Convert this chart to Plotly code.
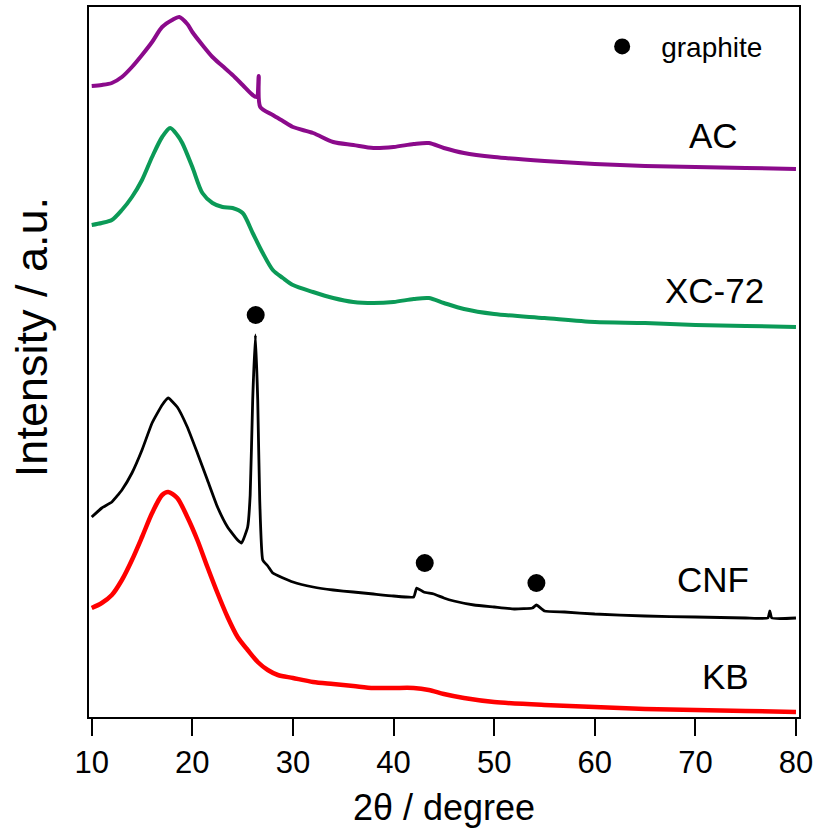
import plotly.graph_objects as go

# 2theta (degree) and intensity (a.u., offset-stacked)
ac_x = [10, 11, 12, 13, 14, 15, 16, 17, 18, 18.7, 19.5, 20, 21, 22, 23, 24, 25, 26, 26.4, 26.6, 26.75,
        28, 29, 30, 32, 34, 36, 38, 40, 42, 43.5, 45, 47, 50, 55, 60, 65, 70, 75, 80]
ac_y = [631, 632, 634, 640, 650, 662, 675, 690, 697, 700, 693, 685, 672, 660, 651, 642, 632, 622, 620, 641, 610,
        602, 596, 590, 584, 575, 572, 569, 570, 573, 574, 569, 564, 560, 556, 553, 551, 550, 549, 548]

xc_x = [10, 11, 12, 13, 14, 15, 16, 17, 17.8, 18.5, 19, 20, 21, 22, 23, 24, 25, 26, 27, 28, 29, 30,
        32, 34, 36, 38, 40, 42, 43.5, 45, 47, 50, 55, 60, 65, 70, 75, 80]
xc_y = [492, 494, 497, 507, 520, 537, 560, 580, 589, 582, 574, 550, 524, 514, 510, 509, 504, 484, 464, 447, 439, 432,
        425, 419, 415, 414, 415, 418, 419, 414, 408, 403, 399, 395, 394, 392, 391, 390]

cnf_x = [10, 11, 12, 13, 14, 15, 16, 17, 17.6, 18.5, 19.5, 20.5, 21.5, 22.5, 23.5, 24.5, 24.9, 25.5, 25.75,
         26.0, 26.27, 26.5, 26.7, 27.0, 27.5, 28, 30, 32, 34, 36, 38, 40, 42, 42.3, 43, 44, 45, 46, 48, 50,
         52, 53.8, 54.2, 55, 57, 60, 65, 70, 75, 77.2, 77.4, 77.6, 80]
cnf_y = [200, 209, 215, 227, 244, 267, 294, 312, 319, 310, 290, 264, 237, 210, 190, 177, 174, 190, 222,
         317, 382, 317, 217, 157, 151, 144, 135, 130, 127, 125, 123, 121, 120, 129, 125, 123, 119, 116, 112, 110,
         108, 109, 112, 106, 105, 103, 101, 100, 99, 99, 106, 99, 99]

kb_x = [10, 11, 12, 13, 14, 15, 16, 17, 17.6, 18.5, 19.5, 20.5, 21.5, 22.5, 23.5, 24.5, 25.5, 26.5, 27.5,
        28.5, 30, 32, 34, 36, 38, 40, 42, 43.5, 45, 47, 50, 55, 60, 65, 70, 75, 80]
kb_y = [109, 114, 122, 137, 157, 180, 204, 222, 225, 219, 200, 177, 150, 124, 100, 80, 67, 55, 47,
        42, 39, 35, 33, 31, 29, 29, 29, 27, 23, 19, 15, 12, 10, 8, 7, 6, 5]

graphite_x = [26.3, 43.1, 54.2]
graphite_y = [402, 154, 134]

series_names = ["AC", "XC-72", "CNF", "KB"]
label_x = [71.8, 71.9, 71.8, 73.0]
label_y = [582, 427, 138, 41]

x_ticks = [10, 20, 30, 40, 50, 60, 70, 80]

FONT = "Liberation Sans, Arial, Helvetica, sans-serif"

fig = go.Figure()
for xs, ys, col, w, sm, name in [
    (ac_x, ac_y, "#8B0A8B", 4.0, 0.8, "AC"),
    (xc_x, xc_y, "#0B9A57", 4.0, 0.8, "XC-72"),
    (cnf_x, cnf_y, "#000000", 2.8, 0.4, "CNF"),
    (kb_x, kb_y, "#FF0000", 4.5, 0.8, "KB"),
]:
    fig.add_trace(go.Scatter(x=xs, y=ys, mode="lines", name=name, showlegend=False,
                             line=dict(color=col, width=w, shape="spline", smoothing=sm)))

fig.add_trace(go.Scatter(x=graphite_x, y=graphite_y, mode="markers", name="graphite",
                         marker=dict(color="black", size=18), showlegend=True))

for n, lx, ly in zip(series_names, label_x, label_y):
    fig.add_annotation(x=lx, y=ly, text=n, showarrow=False, xanchor="center", yanchor="middle",
                       font=dict(family=FONT, size=35, color="black"))

# y-axis title placed as rotated text (centred slightly above the plot centre, as in the original)
fig.add_annotation(xref="paper", yref="paper", x=-0.0817, y=0.535, text="Intensity / a.u.",
                   textangle=-90, showarrow=False, xanchor="center", yanchor="middle",
                   font=dict(family=FONT, size=45, color="black"))

fig.update_layout(
    width=817, height=835,
    margin=dict(l=89, r=18, t=7, b=118),
    paper_bgcolor="white", plot_bgcolor="white",
    font=dict(family=FONT, color="black"),
    showlegend=True,
    legend=dict(x=0.696, y=0.944, xanchor="left", yanchor="middle", itemwidth=68,
                font=dict(family=FONT, size=28, color="black"), bgcolor="rgba(0,0,0,0)"),
    xaxis=dict(range=[9.73, 80.3], tickvals=x_ticks, ticktext=[str(t) for t in x_ticks],
               ticks="outside", ticklen=17, tickwidth=2, tickcolor="black",
               showline=True, linewidth=2, linecolor="black", mirror=True,
               showgrid=False, zeroline=False, tickfont=dict(family=FONT, size=31, color="black"),
               title=dict(text="2θ / degree", font=dict(family=FONT, size=36, color="black"), standoff=16),
               automargin=False),
    yaxis=dict(range=[0, 710], showticklabels=False, ticks="",
               showline=True, linewidth=2, linecolor="black", mirror=True,
               showgrid=False, zeroline=False, automargin=False),
)

fig.write_html("out.html")
